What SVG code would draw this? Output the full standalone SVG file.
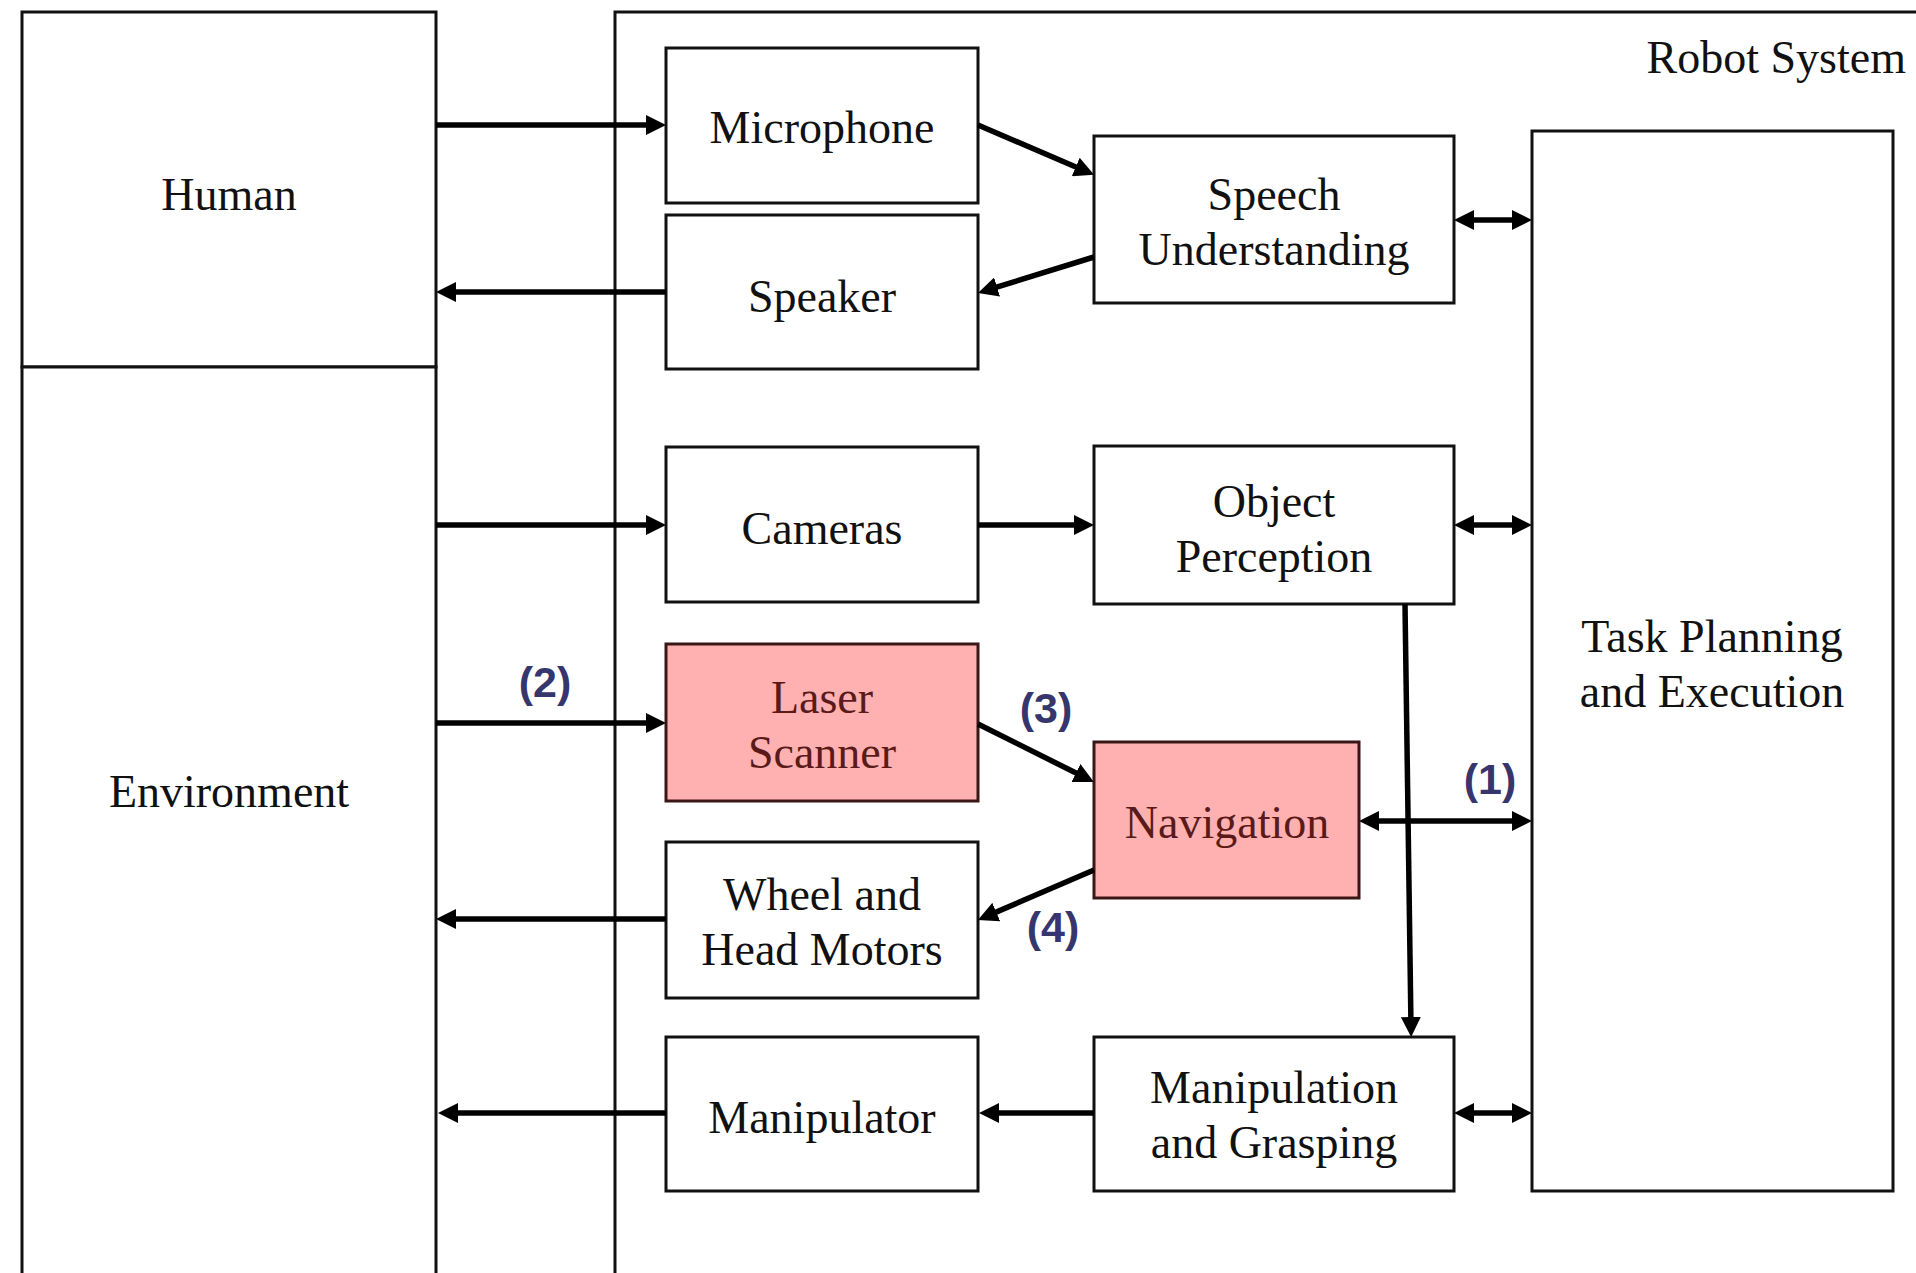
<svg xmlns="http://www.w3.org/2000/svg" width="1916" height="1273" viewBox="0 0 1916 1273">
<defs>
<style>
.box{fill:#fff;stroke:#111;stroke-width:3}
.pink{fill:#ffb0b0;stroke:#3a1616;stroke-width:3}
.t{font-family:"Liberation Serif","Times New Roman",serif;font-size:46px;fill:#111;text-anchor:middle}
.tp{fill:#5a1a1a}
.lbl{font-family:"Liberation Sans",Arial,sans-serif;font-weight:bold;font-size:43px;fill:#36366c;text-anchor:middle}
.c{stroke:#000;stroke-width:5.5;fill:none}
.a{marker-end:url(#ah)}
.d{marker-start:url(#ah);marker-end:url(#ah)}
</style>
<marker id="ah" viewBox="0 0 20 20" markerWidth="20" markerHeight="20" markerUnits="userSpaceOnUse" refX="9" refY="10" orient="auto-start-reverse">
<path d="M0,0 L20,10 L0,20 z" fill="#000"/>
</marker>
</defs>
<rect width="1916" height="1273" fill="#fff"/>

<g id="robot-system">
<path d="M615,1280 V12 H1930" fill="none" stroke="#111" stroke-width="3"/>
<text class="t" x="1906" y="73" style="text-anchor:end">Robot System</text>
</g>
<g id="human">
<rect class="box" x="22" y="12" width="414" height="355"/>
<text class="t" x="229" y="210">Human</text>
</g>
<g id="environment">
<path d="M22,1280 V367 H436 V1280" class="box"/>
<text class="t" x="229" y="807">Environment</text>
</g>

<g id="microphone">
<rect class="box" x="666" y="48" width="312" height="155"/>
<text class="t" x="822" y="143">Microphone</text>
</g>
<g id="speaker">
<rect class="box" x="666" y="215" width="312" height="154"/>
<text class="t" x="822" y="312">Speaker</text>
</g>
<g id="speech-understanding">
<rect class="box" x="1094" y="136" width="360" height="167"/>
<text class="t" x="1274" y="210">Speech</text>
<text class="t" x="1274" y="265">Understanding</text>
</g>
<g id="task-planning">
<rect class="box" x="1532" y="131" width="361" height="1060"/>
<text class="t" x="1712" y="652">Task Planning</text>
<text class="t" x="1712" y="707">and Execution</text>
</g>
<g id="cameras">
<rect class="box" x="666" y="447" width="312" height="155"/>
<text class="t" x="822" y="544">Cameras</text>
</g>
<g id="object-perception">
<rect class="box" x="1094" y="446" width="360" height="158"/>
<text class="t" x="1274" y="517">Object</text>
<text class="t" x="1274" y="572">Perception</text>
</g>
<g id="laser-scanner">
<rect class="pink" x="666" y="644" width="312" height="157"/>
<text class="t tp" x="822" y="713">Laser</text>
<text class="t tp" x="822" y="768">Scanner</text>
</g>
<g id="navigation">
<rect class="pink" x="1094" y="742" width="265" height="156"/>
<text class="t tp" x="1227" y="838">Navigation</text>
</g>
<g id="wheel-head-motors">
<rect class="box" x="666" y="842" width="312" height="156"/>
<text class="t" x="822" y="910">Wheel and</text>
<text class="t" x="822" y="965">Head Motors</text>
</g>
<g id="manipulator">
<rect class="box" x="666" y="1037" width="312" height="154"/>
<text class="t" x="822" y="1133">Manipulator</text>
</g>
<g id="manipulation-grasping">
<rect class="box" x="1094" y="1037" width="360" height="154"/>
<text class="t" x="1274" y="1103">Manipulation</text>
<text class="t" x="1274" y="1158">and Grasping</text>
</g>

<g id="connectors">
<line class="c a" x1="436" y1="125" x2="655" y2="125"/>
<line class="c a" x1="666" y1="292" x2="447" y2="292"/>
<line class="c a" x1="978" y1="125" x2="1084" y2="170.5"/>
<line class="c a" x1="1094" y1="257" x2="988.5" y2="289.7"/>
<line class="c d" x1="1465" y1="220" x2="1521" y2="220"/>
<line class="c a" x1="436" y1="525" x2="655" y2="525"/>
<line class="c a" x1="978" y1="525" x2="1083" y2="525"/>
<line class="c d" x1="1465" y1="525" x2="1521" y2="525"/>
<line class="c a" x1="436" y1="723" x2="655" y2="723"/>
<line class="c a" x1="978" y1="724" x2="1084" y2="777"/>
<line class="c a" x1="1094" y1="870" x2="988" y2="915.6"/>
<line class="c a" x1="666" y1="919" x2="447" y2="919"/>
<line class="c d" x1="1370" y1="821" x2="1521" y2="821"/>
<line class="c a" x1="1405" y1="604" x2="1411" y2="1026"/>
<line class="c a" x1="1094" y1="1113" x2="990" y2="1113"/>
<line class="c a" x1="666" y1="1113" x2="449" y2="1113"/>
<line class="c d" x1="1465" y1="1113" x2="1521" y2="1113"/>
</g>

<g id="labels">
<text class="lbl" x="545" y="697">(2)</text>
<text class="lbl" x="1046" y="723">(3)</text>
<text class="lbl" x="1053" y="942">(4)</text>
<text class="lbl" x="1490" y="794">(1)</text>
</g>
</svg>
